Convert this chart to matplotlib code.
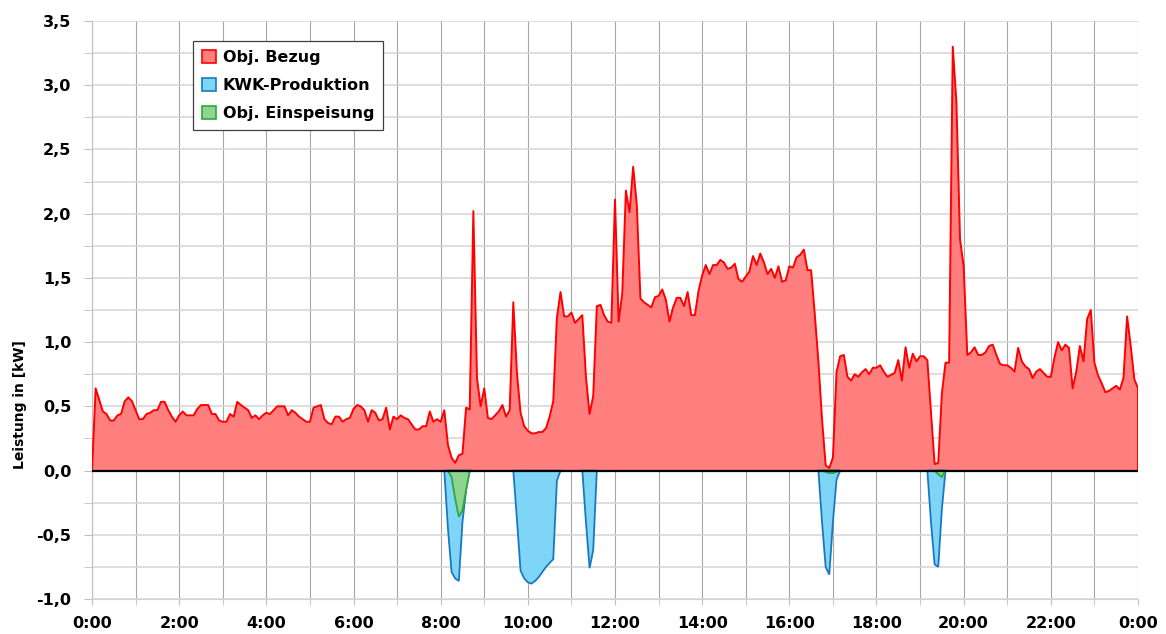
import numpy as np
import matplotlib
matplotlib.use("Agg")
import matplotlib.pyplot as plt
from matplotlib.patches import Patch
from matplotlib.ticker import MultipleLocator, FuncFormatter

# Load profile in kW, sampled every 5 minutes (one row per hour)
bezug_rows = [
    [0.00, 0.64, 0.55, 0.46, 0.44, 0.39, 0.39, 0.43, 0.44, 0.54, 0.57, 0.54],   # 0:00
    [0.47, 0.40, 0.40, 0.44, 0.45, 0.47, 0.47, 0.535, 0.535, 0.47, 0.42, 0.38],  # 1:00
    [0.43, 0.46, 0.43, 0.43, 0.43, 0.48, 0.51, 0.51, 0.51, 0.44, 0.44, 0.39],   # 2:00
    [0.38, 0.38, 0.44, 0.42, 0.535, 0.51, 0.49, 0.47, 0.41, 0.43, 0.40, 0.43],  # 3:00
    [0.45, 0.44, 0.47, 0.50, 0.50, 0.50, 0.43, 0.47, 0.45, 0.42, 0.40, 0.38],   # 4:00
    [0.38, 0.49, 0.50, 0.51, 0.40, 0.37, 0.36, 0.42, 0.42, 0.38, 0.40, 0.41],   # 5:00
    [0.48, 0.51, 0.50, 0.47, 0.38, 0.47, 0.45, 0.39, 0.40, 0.49, 0.32, 0.42],   # 6:00
    [0.40, 0.43, 0.41, 0.40, 0.36, 0.32, 0.32, 0.345, 0.345, 0.46, 0.38, 0.40], # 7:00
    [0.38, 0.47, 0.20, 0.10, 0.06, 0.12, 0.13, 0.49, 0.475, 2.02, 0.72, 0.50],  # 8:00
    [0.64, 0.41, 0.40, 0.43, 0.46, 0.51, 0.42, 0.47, 1.31, 0.76, 0.45, 0.345],  # 9:00
    [0.31, 0.29, 0.29, 0.30, 0.30, 0.33, 0.42, 0.54, 1.19, 1.39, 1.20, 1.20],   # 10:00
    [1.23, 1.15, 1.18, 1.21, 0.73, 0.44, 0.58, 1.28, 1.29, 1.21, 1.16, 1.15],   # 11:00
    [2.11, 1.16, 1.38, 2.18, 2.01, 2.365, 2.07, 1.34, 1.31, 1.29, 1.27, 1.35],  # 12:00
    [1.36, 1.41, 1.33, 1.16, 1.27, 1.345, 1.345, 1.28, 1.39, 1.21, 1.21, 1.40], # 13:00
    [1.52, 1.60, 1.53, 1.60, 1.60, 1.64, 1.62, 1.57, 1.58, 1.61, 1.49, 1.47],   # 14:00
    [1.51, 1.55, 1.67, 1.60, 1.69, 1.62, 1.53, 1.57, 1.50, 1.59, 1.47, 1.48],   # 15:00
    [1.59, 1.58, 1.66, 1.68, 1.72, 1.56, 1.56, 1.22, 0.85, 0.40, 0.04, 0.02],   # 16:00
    [0.10, 0.77, 0.89, 0.90, 0.73, 0.70, 0.75, 0.73, 0.765, 0.79, 0.75, 0.80],  # 17:00
    [0.80, 0.82, 0.77, 0.73, 0.745, 0.76, 0.86, 0.70, 0.96, 0.80, 0.91, 0.85],  # 18:00
    [0.89, 0.89, 0.86, 0.46, 0.05, 0.06, 0.60, 0.84, 0.84, 3.30, 2.87, 1.80],   # 19:00
    [1.59, 0.90, 0.92, 0.96, 0.90, 0.90, 0.92, 0.97, 0.98, 0.90, 0.83, 0.82],   # 20:00
    [0.82, 0.80, 0.77, 0.955, 0.85, 0.81, 0.79, 0.72, 0.77, 0.79, 0.76, 0.73],  # 21:00
    [0.73, 0.88, 1.00, 0.935, 0.98, 0.955, 0.64, 0.77, 0.97, 0.85, 1.18, 1.25], # 22:00
    [0.84, 0.74, 0.68, 0.61, 0.62, 0.64, 0.66, 0.63, 0.72, 1.20, 0.97, 0.71],   # 23:00
]
bezug_end = 0.64  # value at 24:00

# CHP production runs (start time, 5-minute values in kW)
kwk_runs = [
    ("8:05",  [0, -0.45, -0.79, -0.84, -0.86, -0.40, -0.15, 0]),
    ("9:40",  [0, -0.38, -0.78, -0.84, -0.87, -0.88, -0.86, -0.83, -0.79, -0.75, -0.72, -0.69, -0.08, 0]),
    ("11:15", [0, -0.40, -0.76, -0.62, 0]),
    ("16:40", [0, -0.40, -0.75, -0.81, -0.40, -0.07, 0]),
    ("19:10", [0, -0.40, -0.73, -0.75, -0.30, 0]),
]

# Grid feed-in runs (start time, 5-minute values in kW)
einspeisung_runs = [
    ("8:10",  [0, -0.05, -0.22, -0.36, -0.31, -0.15, 0]),
    ("16:45", [0, -0.01, -0.02, -0.02, -0.01, 0]),
    ("19:20", [0, -0.03, -0.05, 0]),
]

series_labels = ["Obj. Bezug", "KWK-Produktion", "Obj. Einspeisung"]

STEP_H = 5 / 60.0


def to_hours(hhmm):
    h, m = hhmm.split(":")
    return int(h) + int(m) / 60.0


def run_xy(start, values):
    t0 = to_hours(start)
    x = t0 + STEP_H * np.arange(len(values))
    return x, np.asarray(values, dtype=float)


bezug = np.concatenate([np.ravel(bezug_rows), [bezug_end]])
t = STEP_H * np.arange(len(bezug))

red_fill, red_line = "#ff7f7f", "#ff0000"
blue_fill, blue_line = "#7fd5f5", "#1a78c2"
green_fill, green_line = "#8fd48f", "#2ea83a"

plt.rcParams["font.family"] = ["DejaVu Sans"]
plt.rcParams["font.weight"] = "bold"

fig = plt.figure(figsize=(11.66, 6.34), dpi=100)
ax = fig.add_axes([92 / 1166, 1 - 599 / 634, (1138 - 92) / 1166, (599 - 21) / 634])

# Object load (positive area)
ax.fill_between(t, 0, bezug, facecolor=red_fill, edgecolor="none", zorder=2)
ax.plot(np.append(t, t[-1]), np.append(bezug, 0.0), color=red_line, lw=1.4, zorder=3)

# CHP production (negative area)
for start, vals in kwk_runs:
    x, y = run_xy(start, vals)
    ax.fill(x, y, facecolor=blue_fill, edgecolor=blue_line, lw=1.3, zorder=2)

# Feed-in to grid (negative area, in front of CHP)
for start, vals in einspeisung_runs:
    x, y = run_xy(start, vals)
    ax.fill(x, y, facecolor=green_fill, edgecolor=green_line, lw=1.3, zorder=2.5)

ax.axhline(0, color="black", lw=1.6, zorder=4)

ax.set_xlim(0, 24)
ax.set_ylim(-1.0, 3.5)

ax.xaxis.set_major_locator(MultipleLocator(2))
ax.xaxis.set_minor_locator(MultipleLocator(1))
ax.xaxis.set_major_formatter(FuncFormatter(lambda v, p: f"{int(round(v)) % 24}:00"))
ax.yaxis.set_major_locator(MultipleLocator(0.5))
ax.yaxis.set_minor_locator(MultipleLocator(0.25))
ax.yaxis.set_major_formatter(FuncFormatter(lambda v, p: f"{v:.1f}".replace(".", ",")))

ax.grid(axis="x", which="both", color="#a6a6a6", lw=0.8, zorder=0)
ax.grid(axis="y", which="both", color="#d4d4d4", lw=1.1, zorder=0)
ax.set_axisbelow(True)

for side in ("top", "right"):
    ax.spines[side].set_visible(False)
ax.spines["left"].set_color("#bfbfbf")
ax.spines["bottom"].set_color("#d4d4d4")

ax.tick_params(axis="y", which="both", length=6, color="#bfbfbf", pad=9, labelsize=11.5)
ax.tick_params(axis="x", which="both", length=4, color="#bfbfbf", pad=8, labelsize=11.5)
for lab in ax.get_xticklabels() + ax.get_yticklabels():
    lab.set_fontweight("bold")

fig.text(20 / 1166, 1 - 405 / 634, "Leistung in [kW]", rotation=90, ha="center", va="center",
         fontsize=10, fontweight="bold")

handles = [
    Patch(facecolor=red_fill, edgecolor=red_line, lw=1.2),
    Patch(facecolor=blue_fill, edgecolor=blue_line, lw=1.2),
    Patch(facecolor=green_fill, edgecolor=green_line, lw=1.2),
]
leg = ax.legend(handles, series_labels, loc="upper left",
                bbox_to_anchor=((193 - 92) / 1046, (599 - 41) / 578),
                frameon=True, fancybox=False, framealpha=1, edgecolor="#404040",
                prop={"weight": "bold", "size": 11.5}, handlelength=0.9, handleheight=0.9,
                handletextpad=0.4, labelspacing=0.8, borderpad=0.55, borderaxespad=0)
leg.get_frame().set_linewidth(0.9)
leg.set_zorder(10)

fig.savefig("out.png", dpi=100)
